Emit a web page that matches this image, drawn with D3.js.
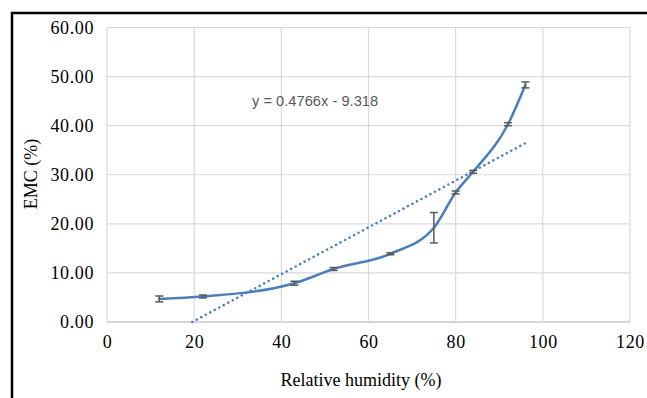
<!DOCTYPE html>
<html lang="en">
<head>
    <meta charset="UTF-8">
    <script src="https://cdn.jsdelivr.net/npm/d3@7"></script>
    <title>EMC vs relative humidity</title>
    <style>
        body { margin: 0; background: #fff; }
        text { font-family: "Liberation Serif", "Times New Roman", serif; fill: #000; }
    </style>
</head>
<body>
    <svg width="647" height="398"></svg>

    <script>
        // data
        const humidity = [12, 22, 43, 52, 65, 75, 80, 84, 92, 96];
        const emc = [4.7, 5.2, 7.9, 10.8, 13.9, 19.2, 26.4, 30.6, 40.3, 48.3];
        const emcErr = [0.6, 0.3, 0.4, 0.3, 0.2, 3.1, 0.3, 0.3, 0.3, 0.6];
        // linear trendline from the label
        const trendSlope = 0.4766;
        const trendIntercept = -9.318;
        const xTicks = [0, 20, 40, 60, 80, 100, 120];
        const yTicks = [0, 10, 20, 30, 40, 50, 60];

        const svg = d3.select('svg');
        const blue = '#4a7ebb';

        // black frame (left + top)
        svg.append('path')
            .attr('d', 'M12,398 V13 H647')
            .attr('fill', 'none')
            .attr('stroke', '#000')
            .attr('stroke-width', 2.5);

        const x = d3.scaleLinear().domain([0, 120]).range([107, 630]);
        const y = d3.scaleLinear().domain([0, 60]).range([322, 27.5]);

        // grid
        svg.append('g')
            .selectAll('line.h')
            .data(yTicks)
            .enter().append('line')
            .attr('x1', x(0)).attr('x2', x(120))
            .attr('y1', d => y(d)).attr('y2', d => y(d))
            .attr('stroke', d => d === 0 ? '#c8c8c8' : '#d9d9d9')
            .attr('stroke-width', d => d === 0 ? 1.5 : 1.2);
        svg.append('g')
            .selectAll('line.v')
            .data(xTicks)
            .enter().append('line')
            .attr('y1', y(0)).attr('y2', y(60))
            .attr('x1', d => x(d)).attr('x2', d => x(d))
            .attr('stroke', '#d9d9d9')
            .attr('stroke-width', 1.2);

        // axes (ticks hidden, labels only)
        const xAxis = d3.axisBottom(x).tickValues(xTicks).tickSize(0).tickPadding(0).tickFormat(d3.format('d'));
        const yAxis = d3.axisLeft(y).tickValues(yTicks).tickSize(0).tickPadding(0).tickFormat(d3.format('.2f'));

        const gx = svg.append('g').attr('transform', `translate(0, ${y(0)})`).call(xAxis);
        gx.select('.domain').remove();
        gx.selectAll('text')
            .attr('y', 26).attr('dy', 0)
            .attr('font-size', 18).attr('letter-spacing', 0.6);

        const gy = svg.append('g').attr('transform', `translate(${x(0) - 13}, 0)`).call(yAxis);
        gy.select('.domain').remove();
        gy.selectAll('text')
            .attr('x', 0).attr('dy', 5.5)
            .attr('font-size', 18).attr('letter-spacing', 0.6);

        // axis titles
        svg.append('text')
            .attr('x', 361).attr('y', 386)
            .attr('text-anchor', 'middle')
            .attr('font-size', 18)
            .text('Relative humidity (%)');
        svg.append('text')
            .attr('transform', 'translate(37, 174) rotate(-90)')
            .attr('text-anchor', 'middle')
            .attr('font-size', 18)
            .text('EMC (%)');

        const pts = humidity.map((h, i) => ({ h: h, v: emc[i], e: emcErr[i] }));

        // trendline, clipped at y = 0
        const tStart = Math.max(d3.min(humidity), -trendIntercept / trendSlope);
        const tEnd = d3.max(humidity);
        svg.append('line')
            .attr('x1', x(tStart)).attr('y1', y(trendSlope * tStart + trendIntercept))
            .attr('x2', x(tEnd)).attr('y2', y(trendSlope * tEnd + trendIntercept))
            .attr('stroke', blue)
            .attr('stroke-width', 2.5)
            .attr('stroke-linecap', 'round')
            .attr('stroke-dasharray', '0.1,5');

        // smoothed series line
        const line = d3.line()
            .x(d => x(d.h))
            .y(d => y(d.v))
            .curve(d3.curveMonotoneX);
        svg.append('path')
            .datum(pts)
            .attr('d', line)
            .attr('fill', 'none')
            .attr('stroke', blue)
            .attr('stroke-width', 2.5)
            .attr('stroke-linecap', 'round');

        // error bars
        const eb = svg.append('g')
            .attr('stroke', '#595959')
            .attr('stroke-width', 1.5)
            .selectAll('g')
            .data(pts)
            .enter().append('g');
        eb.append('line')
            .attr('x1', d => x(d.h)).attr('x2', d => x(d.h))
            .attr('y1', d => y(d.v - d.e)).attr('y2', d => y(d.v + d.e));
        eb.append('line')
            .attr('x1', d => x(d.h) - 4).attr('x2', d => x(d.h) + 4)
            .attr('y1', d => y(d.v + d.e)).attr('y2', d => y(d.v + d.e));
        eb.append('line')
            .attr('x1', d => x(d.h) - 4).attr('x2', d => x(d.h) + 4)
            .attr('y1', d => y(d.v - d.e)).attr('y2', d => y(d.v - d.e));

        // trendline equation
        svg.append('text')
            .attr('x', 252).attr('y', 105.5)
            .style('font-family', '"Liberation Sans", Arial, sans-serif')
            .style('font-size', '14.7px')
            .style('fill', '#595959')
            .text(`y = ${trendSlope}x - ${-trendIntercept}`);
    </script>
</body>
</html>
